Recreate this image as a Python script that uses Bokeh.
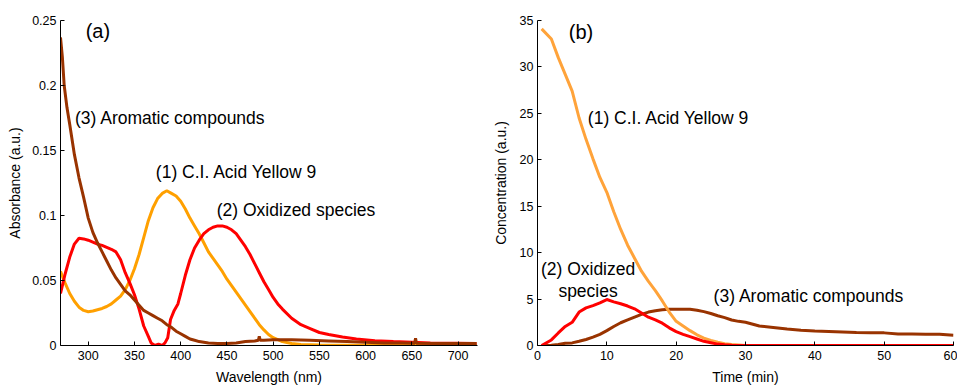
from bokeh.plotting import figure
from bokeh.layouts import row
from bokeh.models import Label, FixedTicker, CustomJSTickFormatter, Range1d
from bokeh.embed import file_html
from bokeh.resources import INLINE

FONT = "Liberation Sans"

# ---------------- Panel (a): spectra ----------------
wl_yellow = [270, 275, 280, 285, 290, 295, 300, 305, 310, 315, 320, 325, 330, 335, 340, 345,
             350, 355, 360, 365, 370, 375, 380, 385, 390, 395, 400, 405, 410, 415, 420, 425,
             430, 435, 440, 445, 450, 455, 460, 465, 470, 475, 480, 485, 490, 495, 500, 505,
             510, 520, 530, 550, 600, 650, 720]
abs_yellow = [0.057, 0.048, 0.040, 0.034, 0.0295, 0.027, 0.026, 0.0265, 0.0275, 0.0285, 0.030,
              0.032, 0.035, 0.038, 0.043, 0.050, 0.059, 0.070, 0.083, 0.096, 0.106, 0.113,
              0.117, 0.119, 0.117, 0.115, 0.111, 0.105, 0.098, 0.092, 0.086, 0.079, 0.072,
              0.067, 0.062, 0.057, 0.051, 0.046, 0.041, 0.036, 0.031, 0.026, 0.021, 0.016,
              0.012, 0.0085, 0.006, 0.0045, 0.003, 0.0015, 0.0008, 0.0003, 0.0002, 0.0002, 0.0002]

wl_oxid = [270, 275, 280, 285, 290, 295, 300, 305, 310, 315, 320, 325, 330, 335, 340, 345,
           350, 355, 360, 365, 368, 372, 376, 380, 383, 386, 389, 393, 397, 400, 405, 410, 415,
           420, 425, 430, 435, 440, 445, 450, 455, 460, 465, 470, 475, 480, 485, 490, 495,
           500, 505, 510, 520, 530, 540, 550, 560, 575, 590, 610, 630, 650, 670, 700, 720]
abs_oxid = [0.040, 0.055, 0.068, 0.078, 0.0825, 0.082, 0.081, 0.0795, 0.078, 0.077, 0.0755,
            0.074, 0.072, 0.066, 0.056, 0.048, 0.039, 0.028, 0.015, 0.007, 0.002, 0.0, 0.001,
            0.0, 0.002, 0.006, 0.020, 0.027, 0.032, 0.040, 0.054, 0.066, 0.075, 0.081, 0.086,
            0.089, 0.091, 0.092, 0.092, 0.091, 0.089, 0.086, 0.081, 0.076, 0.070, 0.063,
            0.056, 0.049, 0.043, 0.037, 0.032, 0.028, 0.021, 0.016, 0.013, 0.010, 0.0085,
            0.0065, 0.005, 0.0037, 0.003, 0.0025, 0.002, 0.0017, 0.0015]

wl_arom = [270, 272, 274, 277, 280, 285, 290, 295, 300, 305, 310, 315, 320, 325, 330, 335,
           340, 345, 350, 355, 360, 365, 370, 375, 380, 385, 390, 395, 400, 405, 410, 415,
           420, 430, 440, 450, 460, 470, 480, 484, 485, 486, 490, 500, 520, 540, 560, 580,
           600, 620, 640, 653, 654, 655, 680, 700, 720]
abs_arom = [0.237, 0.222, 0.200, 0.183, 0.170, 0.147, 0.129, 0.114, 0.098, 0.087, 0.079,
            0.072, 0.065, 0.058, 0.052, 0.047, 0.042, 0.039, 0.035, 0.031, 0.027, 0.025,
            0.023, 0.021, 0.019, 0.016, 0.014, 0.011, 0.009, 0.007, 0.005, 0.004, 0.003,
            0.002, 0.0015, 0.0015, 0.002, 0.003, 0.0035, 0.004, 0.007, 0.004, 0.004, 0.0045,
            0.0045, 0.004, 0.0035, 0.003, 0.0025, 0.002, 0.002, 0.0018, 0.0055, 0.0018,
            0.0015, 0.0015, 0.0015]

wl_ticks = [300, 350, 400, 450, 500, 550, 600, 650, 700]
abs_ticks = [0, 0.05, 0.1, 0.15, 0.2, 0.25]

# ---------------- Panel (b): kinetics ----------------
time_min = [0.6, 2, 3, 4, 5, 6, 7, 8, 9, 10, 11, 12, 13, 14, 15, 16, 17, 18, 19, 20, 21, 22,
            23, 24, 25, 26, 27, 28, 29, 30, 32, 34, 36, 38, 40, 42, 44, 46, 48, 50, 52, 54,
            56, 58, 60]
conc_yellow = [34.1, 33.0, 31.0, 29.2, 27.4, 24.5, 22.2, 20.1, 18.1, 16.5, 14.4, 12.5, 10.8,
               9.4, 8.0, 6.9, 5.9, 4.8, 3.6, 2.6, 2.1, 1.6, 1.15, 0.8, 0.55, 0.35, 0.2, 0.1,
               0.05, 0, 0, 0, 0, 0, 0, 0, 0, 0, 0, 0, 0, 0, 0, 0, 0]
conc_oxid = [0.0, 0.6, 1.35, 2.05, 2.5, 3.6, 4.05, 4.3, 4.6, 4.95, 4.7, 4.5, 4.25, 3.95, 3.5,
             3.05, 2.75, 2.4, 1.9, 1.5, 1.2, 0.95, 0.7, 0.45, 0.3, 0.15, 0.07, 0.02, 0, 0,
             0, 0, 0, 0, 0, 0, 0, 0, 0, 0, 0, 0, 0, 0, 0]
conc_arom = [0.0, 0.02, 0.1, 0.25, 0.28, 0.45, 0.65, 0.9, 1.2, 1.6, 2.05, 2.45, 2.75, 3.05,
             3.35, 3.6, 3.75, 3.85, 3.9, 3.9, 3.9, 3.9, 3.8, 3.65, 3.45, 3.2, 3.0, 2.75, 2.6,
             2.5, 2.1, 1.95, 1.78, 1.65, 1.55, 1.5, 1.45, 1.4, 1.38, 1.36, 1.25, 1.24, 1.22,
             1.21, 1.1]

time_ticks = [0, 10, 20, 30, 40, 50, 60]
conc_ticks = [0, 5, 10, 15, 20, 25, 30, 35]

ORANGE_A = "#FFA000"
ORANGE_B = "#FFA33A"
RED = "#FF0000"
BROWN = "#993300"
LW = 3


def style(p):
    p.outline_line_color = None
    p.grid.visible = False
    p.background_fill_color = "white"
    p.border_fill_color = "white"
    for ax in p.axis:
        ax.axis_line_color = "black"
        ax.axis_line_width = 1
        ax.major_tick_in = 4
        ax.major_tick_out = 0
        ax.major_tick_line_color = "black"
        ax.minor_tick_line_color = None
        ax.major_label_text_font = FONT
        ax.major_label_text_font_size = "12.5px"
        ax.major_label_text_color = "black"
        ax.axis_label_text_font = FONT
        ax.axis_label_text_font_size = "14px"
        ax.axis_label_text_font_style = "normal"
        ax.axis_label_text_color = "black"
    p.yaxis.major_label_standoff = 4
    p.xaxis.major_label_standoff = 5
    p.xaxis.axis_label_standoff = 6


def label(p, x, y, text, size="17.5px", align="left"):
    p.add_layout(Label(x=x, y=y, text=text, text_font=FONT, text_font_size=size,
                       text_baseline="middle", text_align=align, text_color="black"))


p1 = figure(width=480, height=387, output_backend="svg", toolbar_location=None,
            x_range=Range1d(270, 721), y_range=Range1d(0, 0.25),
            min_border_left=60, min_border_right=3, min_border_top=20, min_border_bottom=40,
            x_axis_label="Wavelength (nm)", y_axis_label="Absorbance (a.u.)")
p1.line(wl_yellow, abs_yellow, line_color=ORANGE_A, line_width=LW)
p1.line(wl_oxid, abs_oxid, line_color=RED, line_width=LW)
p1.line(wl_arom, abs_arom, line_color=BROWN, line_width=LW)
style(p1)
p1.yaxis.axis_label_standoff = 6
p1.xaxis.ticker = FixedTicker(ticks=wl_ticks)
p1.yaxis.ticker = FixedTicker(ticks=abs_ticks)
p1.yaxis.formatter = CustomJSTickFormatter(code="return String(Number(tick.toFixed(4)));")
label(p1, 310.4, 0.2416, "(a)", size="20px", align="center")
label(p1, 285.6, 0.175, "(3) Aromatic compounds")
label(p1, 373.1, 0.1338, "(1) C.I. Acid Yellow 9")
label(p1, 439.0, 0.1042, "(2) Oxidized species")

p2 = figure(width=477, height=387, output_backend="svg", toolbar_location=None,
            x_range=Range1d(0, 60), y_range=Range1d(0, 35),
            min_border_left=57, min_border_right=4, min_border_top=20, min_border_bottom=40,
            x_axis_label="Time (min)", y_axis_label="Concentration (a.u.)")
p2.line(time_min, conc_arom, line_color=BROWN, line_width=LW)
p2.line(time_min, conc_yellow, line_color=ORANGE_B, line_width=LW)
p2.line(time_min, conc_oxid, line_color=RED, line_width=LW)
style(p2)
p2.yaxis.axis_label_standoff = 8
p2.xaxis.ticker = FixedTicker(ticks=time_ticks)
p2.yaxis.ticker = FixedTicker(ticks=conc_ticks)
label(p2, 6.27, 33.8, "(b)", size="20px", align="center")
label(p2, 7.26, 24.48, "(1) C.I. Acid Yellow 9")
label(p2, 7.29, 8.24, "(2) Oxidized", align="center")
label(p2, 7.29, 5.85, "species", align="center")
label(p2, 25.4, 5.38, "(3) Aromatic compounds")

layout = row(p1, p2)
open("out.html", "w").write(file_html(layout, INLINE))
